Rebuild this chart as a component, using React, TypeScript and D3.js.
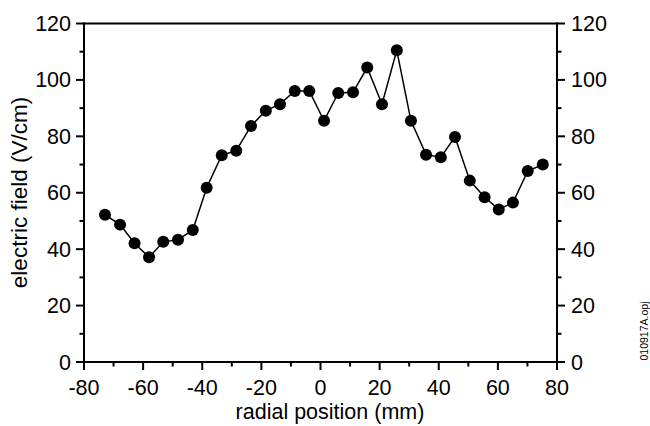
import React from "react";
import * as d3 from "d3";

const radialPosition = [-72.9, -67.8, -62.9, -58, -53.2, -48.2, -43.2, -38.5, -33.4, -28.5, -23.5, -18.5, -13.7, -8.7, -3.8, 1.2, 6.0, 11.0, 15.8, 20.8, 25.8, 30.6, 35.7, 40.7, 45.5, 50.5, 55.5, 60.3, 65.1, 70.1, 75.2];
const electricField = [52.2, 48.7, 42.1, 37.1, 42.6, 43.3, 46.8, 61.8, 73.3, 74.9, 83.7, 89.1, 91.4, 96.1, 96.1, 85.5, 95.4, 95.6, 104.4, 91.4, 110.5, 85.5, 73.5, 72.6, 79.8, 64.3, 58.4, 54.1, 56.5, 67.7, 70.0];
const xMajorTicks = [-80, -60, -40, -20, 0, 20, 40, 60, 80];
const xMinorTicks = [-70, -50, -30, -10, 10, 30, 50, 70];
const yMajorTicks = [0, 20, 40, 60, 80, 100, 120];
const yMinorTicks = [10, 30, 50, 70, 90, 110];
const xTitle = "radial position (mm)";
const yTitle = "electric field (V/cm)";
const fileTag = "010917A.opj";

const W = 650, H = 426;
const L = 84, R = 557, T = 23.5, B = 362;
const FONT = "'Liberation Sans', Arial, sans-serif";
const FS = 21.5;

export default function App() {
  const x = d3.scaleLinear().domain([-80, 80]).range([L, R]);
  const y = d3.scaleLinear().domain([0, 120]).range([B, T]);
  const data = radialPosition.map((v, i) => [v, electricField[i]] as [number, number]);
  const line = d3.line<[number, number]>().x(d => x(d[0])).y(d => y(d[1]));
  const sw = 2;
  return (
    <svg width={W} height={H} style={{ position: "absolute", left: 0, top: 0, background: "#fff" }} fontFamily={FONT}>
      <rect x={0} y={0} width={W} height={H} fill="#fff" />
      {/* frame */}
      <line x1={L} x2={R} y1={T} y2={T} stroke="#000" strokeWidth={sw} />
      <line x1={L} x2={R} y1={B} y2={B} stroke="#000" strokeWidth={sw} />
      <line x1={L} x2={L} y1={T - 1} y2={B + 1} stroke="#000" strokeWidth={sw} />
      <line x1={R} x2={R} y1={T - 1} y2={B + 1} stroke="#000" strokeWidth={sw} />
      {/* x ticks */}
      {xMajorTicks.map(t => (
        <g key={"xm" + t}>
          <line x1={x(t)} x2={x(t)} y1={B} y2={B + 8} stroke="#000" strokeWidth={sw} />
          <text x={x(t)} y={395} textAnchor="middle" fontSize={FS}>{t}</text>
        </g>
      ))}
      {xMinorTicks.map(t => (
        <line key={"xn" + t} x1={x(t)} x2={x(t)} y1={B} y2={B + 4.5} stroke="#000" strokeWidth={sw} />
      ))}
      {/* y ticks */}
      {yMajorTicks.map(t => (
        <g key={"ym" + t}>
          <line x1={L - 8} x2={L} y1={y(t)} y2={y(t)} stroke="#000" strokeWidth={sw} />
          <line x1={R} x2={R + 8} y1={y(t)} y2={y(t)} stroke="#000" strokeWidth={sw} />
          <text x={71} y={y(t)} dy="0.35em" textAnchor="end" fontSize={FS}>{t}</text>
          <text x={571} y={y(t)} dy="0.35em" textAnchor="start" fontSize={FS}>{t}</text>
        </g>
      ))}
      {yMinorTicks.map(t => (
        <g key={"yn" + t}>
          <line x1={L - 4.5} x2={L} y1={y(t)} y2={y(t)} stroke="#000" strokeWidth={sw} />
          <line x1={R} x2={R + 4.5} y1={y(t)} y2={y(t)} stroke="#000" strokeWidth={sw} />
        </g>
      ))}
      {/* data */}
      <path d={line(data) || ""} fill="none" stroke="#000" strokeWidth={1.5} />
      {data.map((d, i) => (
        <circle key={i} cx={x(d[0])} cy={y(d[1])} r={6} fill="#000" />
      ))}
      {/* titles */}
      <text x={330} y={419} textAnchor="middle" fontSize={FS}>{xTitle}</text>
      <text transform={`translate(27,192.5) rotate(-90)`} textAnchor="middle" fontSize={22.5}>{yTitle}</text>
      <text transform={`translate(648,331) rotate(-90)`} textAnchor="middle" fontSize={10.5}>{fileTag}</text>
    </svg>
  );
}
